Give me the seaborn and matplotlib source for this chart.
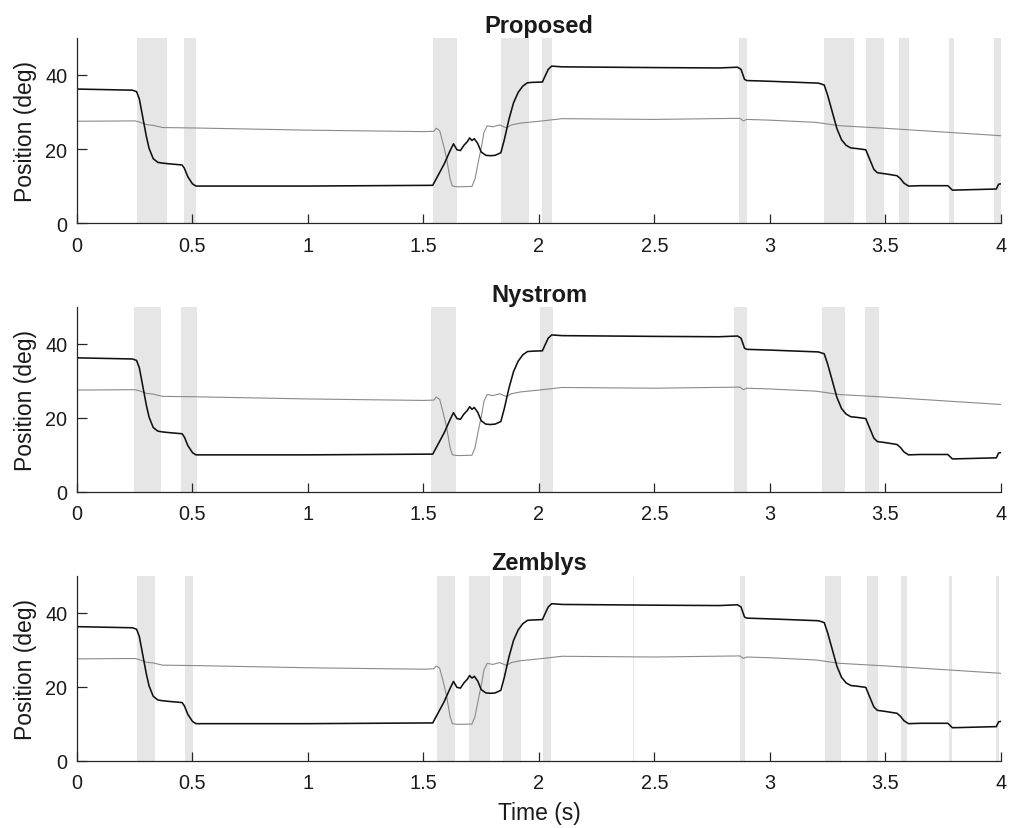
import numpy as np
import pandas as pd
import matplotlib
matplotlib.use("Agg")
import matplotlib.pyplot as plt
import seaborn as sns

# ---------------- data ----------------
titles = ["Proposed", "Nystrom", "Zemblys"]

# eye position trace (black)
t_pos = [0, 0.24, 0.258, 0.27, 0.285, 0.30, 0.312, 0.33, 0.35, 0.37, 0.40, 0.455,
         0.465, 0.48, 0.50, 0.515, 0.53, 1.0, 1.54, 1.56, 1.59, 1.615, 1.63, 1.645,
         1.66, 1.675, 1.69, 1.70, 1.71, 1.72, 1.735, 1.75, 1.77, 1.79, 1.81, 1.835,
         1.85, 1.87, 1.89, 1.91, 1.93, 1.95, 1.97, 2.015, 2.025, 2.04, 2.055, 2.10,
         2.5, 2.78, 2.86, 2.875, 2.89, 2.90, 3.0, 3.21, 3.235, 3.25, 3.27, 3.29,
         3.31, 3.33, 3.35, 3.38, 3.415, 3.43, 3.45, 3.465, 3.50, 3.55, 3.565, 3.58,
         3.60, 3.65, 3.77, 3.78, 3.79, 3.98, 3.99, 4.0]
pos = [36.2, 35.9, 35.5, 33.5, 28.5, 23.5, 20.2, 17.4, 16.4, 16.2, 16.0, 15.7,
       14.8, 12.5, 10.6, 10.0, 10.0, 10.0, 10.2, 12.5, 16.0, 19.5, 21.4, 19.8,
       19.6, 21.0, 22.0, 23.0, 22.3, 22.8, 21.5, 19.2, 18.3, 18.2, 18.3, 19.0,
       22.5, 28.0, 32.5, 35.3, 37.0, 37.9, 38.0, 38.1, 39.5, 41.5, 42.4, 42.2,
       42.0, 41.9, 42.1, 41.5, 38.8, 38.5, 38.3, 37.8, 37.3, 34.5, 30.0, 25.5,
       22.5, 21.0, 20.3, 20.1, 19.8, 17.5, 14.5, 13.6, 13.3, 12.8, 12.0, 10.8,
       10.0, 10.1, 10.1, 9.5, 8.9, 9.2, 10.5, 10.6]

# second trace (gray)
t_ref = [0, 0.25, 0.27, 0.30, 0.33, 0.37, 0.5, 1.0, 1.5, 1.545, 1.555, 1.57,
         1.585, 1.60, 1.615, 1.625, 1.65, 1.71, 1.723, 1.74, 1.752, 1.762, 1.776,
         1.80, 1.83, 1.86, 1.88, 1.92, 2.0, 2.1, 2.5, 2.87, 2.885, 2.90, 3.0, 3.2,
         3.3, 3.5, 3.75, 4.0]
ref = [27.5, 27.6, 27.3, 26.6, 26.4, 25.8, 25.7, 25.1, 24.7, 24.8, 25.6, 25.0,
       21.5, 17.5, 12.0, 10.0, 9.8, 9.9, 11.9, 17.3, 20.9, 24.5, 26.3,
       26.0, 26.5, 25.7, 26.5, 27.0, 27.5, 28.2, 28.0, 28.3, 27.6, 28.0, 27.8,
       27.2, 26.3, 25.6, 24.6, 23.6]

# detected event intervals (s)
spans_proposed = [(0.258, 0.388), (0.463, 0.515), (1.540, 1.644), (1.834, 1.958),
                  (2.013, 2.056), (2.866, 2.899), (3.234, 3.364), (3.416, 3.492),
                  (3.558, 3.602), (3.775, 3.798), (3.971, 4.0)]
spans_nystrom = [(0.248, 0.362), (0.452, 0.518), (1.531, 1.641), (2.004, 2.059),
                 (2.844, 2.899), (3.225, 3.323), (3.413, 3.472)]
spans_zemblys = [(0.258, 0.338), (0.469, 0.501), (1.558, 1.636), (1.697, 1.788),
                 (1.844, 1.921), (2.019, 2.052), (2.406, 2.410), (2.870, 2.890),
                 (3.238, 3.306), (3.420, 3.466), (3.567, 3.592), (3.776, 3.788),
                 (3.978, 3.991)]
all_spans = [spans_proposed, spans_nystrom, spans_zemblys]

x_ticks = [0, 0.5, 1, 1.5, 2, 2.5, 3, 3.5, 4]
x_ticklabels = ["0", "0.5", "1", "1.5", "2", "2.5", "3", "3.5", "4"]
y_ticks = [0, 20, 40]
y_ticklabels = ["0", "20", "40"]

# ---------------- style ----------------
sns.set_theme(style="ticks")
plt.rcParams["font.family"] = ["Liberation Sans", "DejaVu Sans"]

df_pos = pd.DataFrame({"t": t_pos, "v": pos})
df_ref = pd.DataFrame({"t": t_ref, "v": ref})

fig, axes = plt.subplots(3, 1, figsize=(10.09, 8.29), dpi=100)
fig.subplots_adjust(left=0.0763, right=0.992, top=0.953, bottom=0.0812, hspace=0.452)

span_color = "#e5e6e5"
for ax, title, spans in zip(axes, titles, all_spans):
    for a, b in spans:
        ax.axvspan(a, b, color=span_color, lw=0, zorder=0)
    sns.lineplot(data=df_ref, x="t", y="v", ax=ax, color="#8a8a8a", linewidth=0.8,
                 estimator=None, sort=False, zorder=2)
    sns.lineplot(data=df_pos, x="t", y="v", ax=ax, color="#111111", linewidth=1.15,
                 estimator=None, sort=False, zorder=3)
    ax.set_xlim(0, 4)
    ax.set_ylim(0, 50)
    ax.set_xticks(x_ticks)
    ax.set_xticklabels(x_ticklabels)
    ax.set_yticks(y_ticks)
    ax.set_yticklabels(y_ticklabels)
    ax.tick_params(axis="both", direction="in", labelsize=14.3, colors="#262626",
                   labelcolor="#1a1a1a", width=0.9)
    ax.tick_params(axis="x", length=6.5, pad=9)
    ax.tick_params(axis="y", length=7, pad=7)
    for s in ["top", "right"]:
        ax.spines[s].set_visible(False)
    for s in ["left", "bottom"]:
        ax.spines[s].set_color("#262626")
        ax.spines[s].set_linewidth(0.9)
        ax.spines[s].set_zorder(4)
    ax.set_ylabel("Position (deg)", fontsize=16.5, labelpad=6, color="#1a1a1a")
    ax.set_xlabel("")
    ax.set_title(title, fontsize=17, fontweight="bold", pad=4.5, color="#1a1a1a")

axes[-1].set_xlabel("Time (s)", fontsize=16.5, labelpad=6, color="#1a1a1a")

fig.savefig("out.png", dpi=100)
